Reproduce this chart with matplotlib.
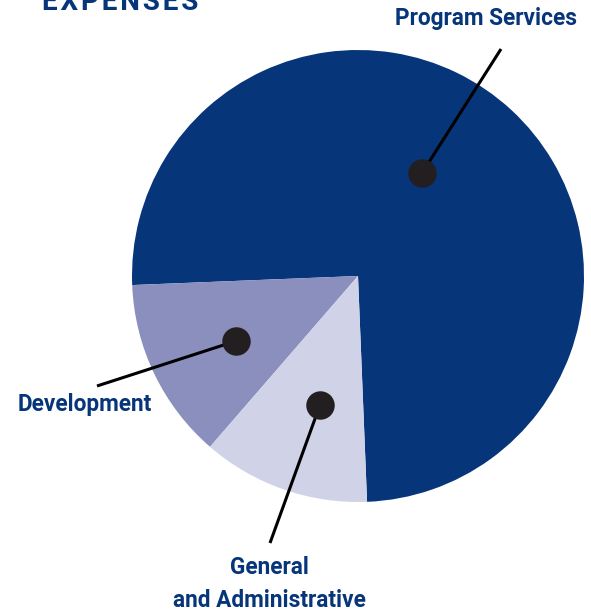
import matplotlib.pyplot as plt

# expense shares (percent)
labels = ["Program Services", "Development", "General\nand Administrative"]
shares = [75, 13, 12]
colors = ["#06357a", "#8a8fbd", "#d0d3e7"]

navy = "#06357a"
W, H = 591, 614

fig = plt.figure(figsize=(W / 100, H / 100), dpi=100)
ax = fig.add_axes([0, 0, 1, 1])

cx, cy, r = 358, H - 276, 226
ax.pie(shares, colors=colors, startangle=-87.7, counterclock=True,
       center=(cx, cy), radius=r, frame=True,
       wedgeprops=dict(linewidth=0))
ax.set_xlim(0, W)
ax.set_ylim(0, H)
ax.set_aspect("equal")
ax.axis("off")

# leader lines: (dot x, dot y, end x, end y) in pixel coords from top
leaders = [(422, 173, 501, 49), (236, 341, 97, 386), (320, 405, 270, 543)]
for x0, y0, x1, y1 in leaders:
    ax.plot([x0, x1], [H - y0, H - y1], color="black", lw=2.2, zorder=5,
            solid_capstyle="butt")
    ax.scatter([x0], [H - y0], s=420, color="#231f20", zorder=6, linewidths=0)

font = ["Roboto", "DejaVu Sans"]
fs = 16.3
ax.text(486, H - 19, labels[0], ha="center", va="center", fontsize=fs,
        fontweight="bold", color=navy, family=font)
ax.text(85, H - 404, labels[1], ha="center", va="center", fontsize=fs,
        fontweight="bold", color=navy, family=font)
ax.text(269, H - 584, labels[2], ha="center", va="center", fontsize=fs,
        fontweight="bold", color=navy, family=font, linespacing=1.6)

ax.text(42, H - 10, "E X P E N S E S".replace(" ", "\u200a"), ha="left",
        va="baseline", fontsize=20, fontweight="bold", color=navy,
        family=["Roboto", "DejaVu Sans"])

fig.savefig("out.png", dpi=100)
